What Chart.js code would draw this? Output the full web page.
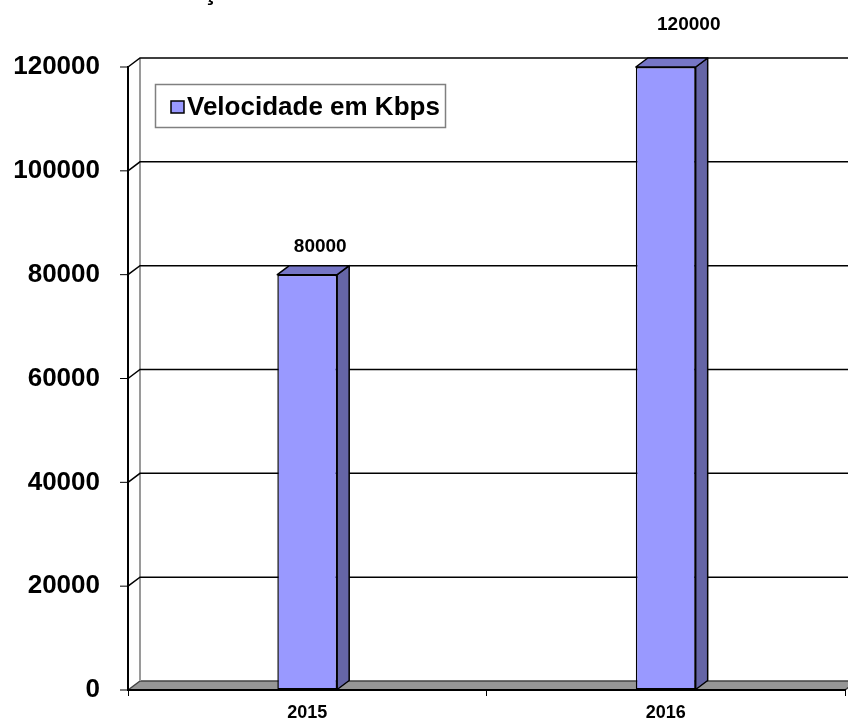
<!DOCTYPE html>
<html><head><meta charset="utf-8">
<script src="https://cdn.jsdelivr.net/npm/chart.js@4/dist/chart.umd.min.js"></script>
<style>html,body{margin:0;padding:0;background:#fff;overflow:hidden}#wrap{width:848px;height:720px}canvas{display:block}</style>
</head><body><div id="wrap"><canvas id="c" width="848" height="720"></canvas></div>
<script>
const categories = ['2015', '2016'];
const seriesName = 'Velocidade em Kbps';
const values = [80000, 120000];
const yTicks = [0, 20000, 40000, 60000, 80000, 100000, 120000];
const titleText = 'Evolução';

const FONT = '"Liberation Sans", Arial, sans-serif';
const DX = 12, DY = 9;

const threeD = {
  id: 'threeD',
  beforeDraw(chart) {
    const { ctx, chartArea: a, scales: { y } } = chart;
    ctx.save();
    ctx.fillStyle = '#969696';
    ctx.beginPath();
    ctx.moveTo(a.left, a.bottom);
    ctx.lineTo(a.left + DX, a.bottom - DY);
    ctx.lineTo(a.right + DX, a.bottom - DY);
    ctx.lineTo(a.right, a.bottom);
    ctx.closePath();
    ctx.fill();
    ctx.strokeStyle = '#444';
    ctx.lineWidth = 1.5;
    ctx.beginPath();
    ctx.moveTo(a.left + DX, a.bottom - DY);
    ctx.lineTo(chart.width, a.bottom - DY);
    ctx.moveTo(a.left, a.bottom);
    ctx.lineTo(a.left + DX, a.bottom - DY);
    ctx.moveTo(a.right, a.bottom);
    ctx.lineTo(a.right + DX, a.bottom - DY);
    ctx.stroke();
    const topV = y.getPixelForValue(yTicks[yTicks.length - 1]);
    ctx.strokeStyle = '#9a9a9a';
    ctx.lineWidth = 2;
    ctx.beginPath();
    ctx.moveTo(a.left + DX, topV - DY);
    ctx.lineTo(a.left + DX, a.bottom - DY);
    ctx.stroke();
    ctx.strokeStyle = '#000';
    yTicks.forEach(v => {
      const py = y.getPixelForValue(v);
      ctx.lineWidth = 1;
      ctx.beginPath();
      ctx.moveTo(a.left - 8, py);
      ctx.lineTo(a.left, py);
      ctx.stroke();
      if (v === 0) return;
      ctx.lineWidth = 1.5;
      ctx.beginPath();
      ctx.moveTo(a.left, py);
      ctx.lineTo(a.left + DX, py - DY);
      ctx.lineTo(chart.width, py - DY);
      ctx.stroke();
    });
    ctx.restore();
  },
  afterDatasetsDraw(chart) {
    const { ctx, chartArea: a } = chart;
    const meta = chart.getDatasetMeta(0);
    ctx.save();
    meta.data.forEach((bar, i) => {
      const p = bar.getProps(['x', 'y', 'base', 'width'], true);
      const L = p.x - p.width / 2, R = p.x + p.width / 2;
      ctx.lineWidth = 1.5;
      ctx.strokeStyle = '#000';
      ctx.lineJoin = 'round';
      ctx.fillStyle = '#6565a6';
      ctx.beginPath();
      ctx.moveTo(R, p.y);
      ctx.lineTo(R + DX, p.y - DY);
      ctx.lineTo(R + DX, p.base - DY);
      ctx.lineTo(R, p.base);
      ctx.closePath();
      ctx.fill(); ctx.stroke();
      ctx.fillStyle = '#7676c6';
      ctx.beginPath();
      ctx.moveTo(L, p.y);
      ctx.lineTo(L + DX, p.y - DY);
      ctx.lineTo(R + DX, p.y - DY);
      ctx.lineTo(R, p.y);
      ctx.closePath();
      ctx.fill(); ctx.stroke();
      const f = (p.x - a.left) / a.width;
      ctx.fillStyle = '#000';
      ctx.font = 'bold 19px ' + FONT;
      ctx.textAlign = 'center';
      ctx.textBaseline = 'alphabetic';
      ctx.fillText(String(values[i]), p.x + 8 + 20 * f, p.y - (15.6 + 28.6 * f));
    });
    ctx.restore();
  },
  afterDraw(chart) {
    const { ctx } = chart;
    ctx.save();
    ctx.fillStyle = '#fff';
    ctx.strokeStyle = '#808080';
    ctx.lineWidth = 1.5;
    ctx.fillRect(155.5, 84.5, 290, 43);
    ctx.strokeRect(155.5, 84.5, 290, 43);
    ctx.fillStyle = '#9999ff';
    ctx.fillRect(171, 101, 13, 12);
    ctx.strokeStyle = '#000';
    ctx.lineWidth = 1.5;
    ctx.strokeRect(171, 101, 13, 12);
    ctx.fillStyle = '#000';
    ctx.font = 'bold 26px ' + FONT;
    ctx.textAlign = 'left';
    ctx.textBaseline = 'alphabetic';
    ctx.fillText(chart.data.datasets[0].label, 187, 115);
    const w = ctx.measureText(titleText.slice(0, titleText.indexOf('ç'))).width;
    ctx.fillText(titleText, 203 - w, 0);
    ctx.restore();
  }
};

new Chart(document.getElementById('c'), {
  type: 'bar',
  data: {
    labels: categories,
    datasets: [{
      label: seriesName,
      data: values,
      backgroundColor: '#9999ff',
      borderColor: '#000',
      borderWidth: 1.5,
      borderSkipped: false,
      barPercentage: 0.167,
      categoryPercentage: 1
    }]
  },
  options: {
    responsive: false,
    animation: false,
    layout: { padding: { top: 67, right: 3, left: 0, bottom: 0 } },
    plugins: { legend: { display: false }, tooltip: { enabled: false }, title: { display: false } },
    scales: {
      x: {
        offset: true,
        grid: { offset: true, drawOnChartArea: false, drawTicks: true, tickLength: 6, color: '#000', lineWidth: 1 },
        border: { display: true, color: '#000', width: 2 },
        ticks: { font: { family: FONT, size: 18, weight: 'bold' }, color: '#000', padding: 6, maxRotation: 0 },
        afterFit(s) { s.height = 30; }
      },
      y: {
        min: 0, max: 120000,
        afterBuildTicks(s) { s.ticks = yTicks.map(v => ({ value: v })); },
        grid: { drawOnChartArea: false, drawTicks: true, tickLength: 28, tickColor: 'rgba(0,0,0,0)', color: 'rgba(0,0,0,0)' },
        border: { display: true, color: '#000', width: 2 },
        ticks: { font: { family: FONT, size: 26, weight: 'bold' }, color: '#000', padding: 0, callback: v => String(v) },
        afterFit(s) { s.width = 128; }
      }
    }
  },
  plugins: [threeD]
});
</script>
</body></html>
